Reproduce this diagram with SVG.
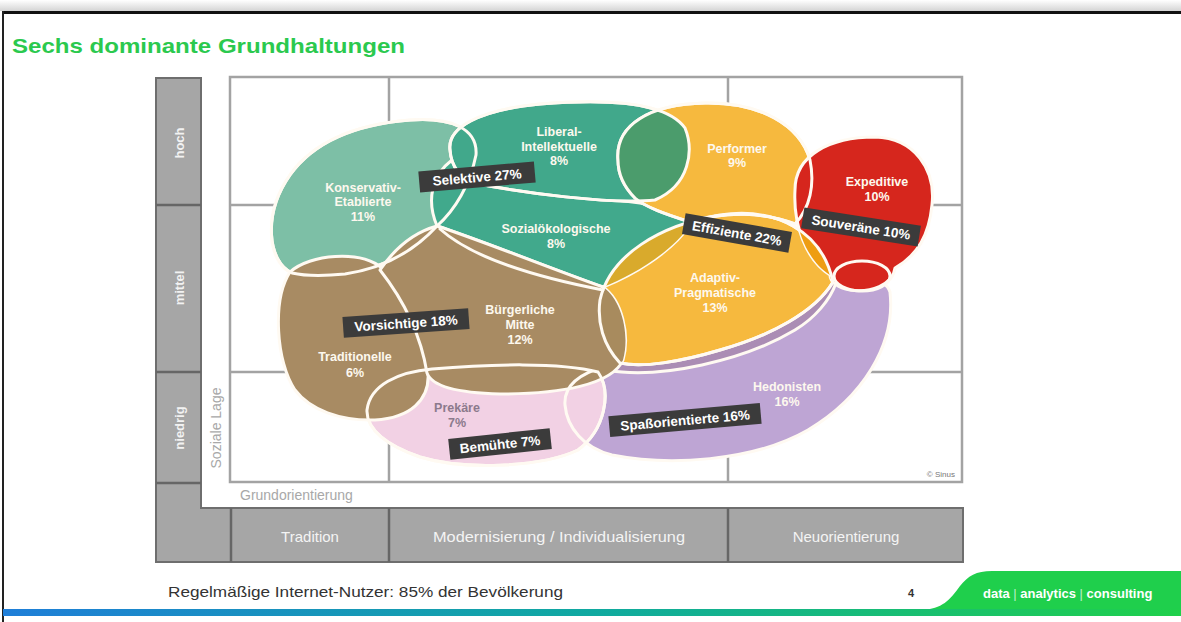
<svg xmlns="http://www.w3.org/2000/svg" width="1181" height="622" viewBox="0 0 1181 622">
<defs>
<linearGradient id="topShade" x1="0" y1="0" x2="0" y2="1"><stop offset="0" stop-color="#ffffff"/><stop offset="1" stop-color="#d4d4d4"/></linearGradient>
<linearGradient id="bottomBar" x1="0" y1="0" x2="1" y2="0"><stop offset="0" stop-color="#1f7ed8"/><stop offset="0.5" stop-color="#10a9a0"/><stop offset="1" stop-color="#1fd04a"/></linearGradient>
<path id="pH" d="M 565,405 C 563,380 590,368 625,362 C 700,350 780,310 828,282 C 850,272 885,276 890,292 C 896,345 862,398 808,430 C 752,462 668,466 612,455 C 584,448 567,428 565,405 Z"/>
<path id="pPk" d="M 367,410 C 370,385 398,372 432,369 C 490,364 560,362 598,372 C 612,392 605,430 578,450 C 540,468 462,470 420,457 C 388,446 366,430 367,410 Z"/>
<path id="pA" d="M 600,300 C 610,255 660,225 720,215 C 775,207 822,230 833,282 C 815,312 770,336 720,350 C 680,362 642,368 620,363 C 603,345 597,322 600,300 Z"/>
<path id="pK" d="M 292,273 C 268,262 262,215 290,175 C 315,140 360,124 410,120 C 450,117 478,128 476,155 C 470,185 455,210 437,226 C 415,250 385,268 345,274 C 325,276 305,276 292,273 Z"/>
<path id="pS" d="M 437,226 C 426,200 432,175 452,160 C 490,182 580,196 640,203 C 662,207 682,215 690,225 C 672,252 632,276 603,287 C 560,272 480,240 437,226 Z"/>
<path id="pL" d="M 450,150 C 447,128 478,110 540,104 C 600,99 665,100 685,128 C 694,150 690,185 655,200 C 610,205 520,192 478,184 C 458,178 451,165 450,150 Z"/>
<path id="pPf" d="M 618,160 C 615,125 650,104 705,103 C 760,102 800,125 810,160 C 815,185 810,208 795,224 C 765,212 725,211 690,222 C 665,214 645,207 635,198 C 622,185 618,172 618,160 Z"/>
<path id="pT" d="M 290,272 C 310,254 360,250 382,268 C 405,300 425,335 428,373 C 430,400 410,418 375,420 C 340,421 310,410 295,390 C 276,362 272,300 290,272 Z"/>
<path id="pB" d="M 380,270 C 395,248 415,232 437,226 C 480,240 560,272 603,287 C 622,300 630,335 623,360 C 612,385 560,394 500,394 C 460,393 432,387 427,373 C 420,330 402,298 380,270 Z"/>
<path id="pE" d="M 795,190 C 795,155 830,137 875,137 C 915,138 936,170 932,205 C 929,235 918,255 895,268 C 893,285 870,293 850,290 C 838,288 830,282 830,275 C 806,260 793,225 795,190 Z"/>
<clipPath id="cA"><use href="#pA"/></clipPath>
<clipPath id="cPf"><use href="#pPf"/></clipPath>
<clipPath id="cPk"><use href="#pPk"/></clipPath>
</defs>
<style>
.blob{stroke:#fffaf2;stroke-width:3;stroke-linejoin:round}
.line{fill:none;stroke:#fffaf2;stroke-width:3;stroke-linecap:round}
.lbl{font-family:"Liberation Sans",Arial,sans-serif;font-weight:bold;font-size:12.5px;fill:#fdf8ee;text-anchor:middle}
.tag rect{fill:#3b3b3b}
.tag text{font-family:"Liberation Sans",Arial,sans-serif;font-weight:bold;font-size:13.5px;fill:#ffffff;text-anchor:middle}
.grid{fill:none;stroke:#a3a3a3;stroke-width:2.5}
.bar{fill:#a6a6a6;stroke:#6e6e6e;stroke-width:2}
.div{stroke:#666666;stroke-width:2.5}
.axis{font-family:"Liberation Sans",Arial,sans-serif;font-size:15px;fill:#f4f4f4;text-anchor:middle}
.vaxis{font-family:"Liberation Sans",Arial,sans-serif;font-size:13px;font-weight:bold;fill:#f2f2f2;text-anchor:middle}
.axtitle{font-family:"Liberation Sans",Arial,sans-serif;font-size:14px;fill:#a8a8a8}
</style>

<rect width="1181" height="622" fill="#ffffff"/>
<rect x="0" y="0" width="1181" height="11" fill="url(#topShade)"/>
<rect x="3" y="11" width="1178" height="3" fill="#111111"/>
<rect x="2" y="11" width="2" height="611" fill="#222222"/>

<text x="12" y="53" font-family="'Liberation Sans',Arial,sans-serif" font-size="21" font-weight="bold" fill="#2bc94e" textLength="393" lengthAdjust="spacingAndGlyphs">Sechs dominante Grundhaltungen</text>

<g id="axes">
<path class="bar" d="M 156,78 H 201 V 508 H 963 V 562 H 156 Z"/>
<line class="div" x1="156" y1="205" x2="201" y2="205"/>
<line class="div" x1="156" y1="372" x2="201" y2="372"/>
<line class="div" x1="156" y1="483" x2="201" y2="483"/>
<line class="div" x1="231" y1="508" x2="231" y2="562"/>
<line class="div" x1="389" y1="508" x2="389" y2="562"/>
<line class="div" x1="728" y1="508" x2="728" y2="562"/>
<text class="vaxis" transform="translate(184,143) rotate(-90)">hoch</text>
<text class="vaxis" transform="translate(184,288) rotate(-90)">mittel</text>
<text class="vaxis" transform="translate(184,428) rotate(-90)">niedrig</text>
<text class="axis" x="310" y="542">Tradition</text>
<text class="axis" x="559" y="542" textLength="252" lengthAdjust="spacingAndGlyphs">Modernisierung / Individualisierung</text>
<text class="axis" x="846" y="542">Neuorientierung</text>
</g>

<g id="panel">
<rect x="202" y="66" width="769" height="441" fill="#ffffff"/>
</g>

<g id="grid">
<rect class="grid" x="230" y="77" width="732" height="405"/>
<line class="grid" x1="389" y1="77" x2="389" y2="482"/>
<line class="grid" x1="728" y1="77" x2="728" y2="482"/>
<line class="grid" x1="230" y1="205" x2="962" y2="205"/>
<line class="grid" x1="230" y1="372" x2="962" y2="372"/>
<text class="axtitle" transform="translate(221,428) rotate(-90)" text-anchor="middle">Soziale Lage</text>
<text class="axtitle" x="240" y="500">Grundorientierung</text>
<text x="955" y="477" font-family="'Liberation Sans',Arial,sans-serif" font-size="8" fill="#777777" text-anchor="end">© Sinus</text>
</g>

<g id="hedonisten"><use href="#pH" class="blob" fill="#bea5d4"/></g>
<g id="strip">
<path d="M 606,368 C 660,380 745,360 795,330 C 815,318 830,300 836,283 L 828,262 L 610,330 Z" fill="#ab8db4"/>
<path class="line" d="M 606,370 C 660,380 745,360 795,330 C 815,318 830,300 836,283"/>
</g>
<g id="prekaere"><use href="#pPk" class="blob" fill="#f2d1e4"/></g>
<g id="adaptiv"><use href="#pA" class="blob" fill="#f6b93e"/></g>
<g id="konservativ"><use href="#pK" class="blob" fill="#7dbfa6"/></g>
<g id="sozialoekologische"><use href="#pS" class="blob" fill="#41a98c"/></g>
<g id="liberal"><use href="#pL" class="blob" fill="#41a88b"/></g>
<g id="performer"><use href="#pPf" class="blob" fill="#f6b93e"/></g>
<g id="overlap-lp"><use href="#pL" fill="#4b9c6c" clip-path="url(#cPf)"/></g>
<g id="traditionelle"><use href="#pT" class="blob" fill="#a88b63"/></g>
<g id="buergerliche"><use href="#pB" class="blob" fill="#a88b63"/></g>
<g id="expeditive"><use href="#pE" class="blob" fill="#d6261d"/></g>
<g id="overlaps">
<use href="#pS" fill="#d9aa2c" clip-path="url(#cA)"/>
<use href="#pE" fill="#ee9d12" clip-path="url(#cA)"/>
<use href="#pB" fill="#a88b5e" clip-path="url(#cA)"/>
</g>

<g id="connectors">
<use href="#pA" class="line"/>
<use href="#pK" class="line"/>
<use href="#pPk" class="line"/>
<use href="#pPf" class="line"/>
<use href="#pL" class="line"/>
<use href="#pH" class="line" clip-path="url(#cPk)"/>
<path class="line" d="M 440,229 C 470,256 530,276 603,290"/>
<ellipse class="line" cx="862" cy="276" rx="28" ry="15"/>
</g>

<g id="labels">
<text class="lbl" x="363" y="192">Konservativ-</text>
<text class="lbl" x="363" y="206">Etablierte</text>
<text class="lbl" x="363" y="221">11%</text>
<text class="lbl" x="559" y="136">Liberal-</text>
<text class="lbl" x="559" y="151">Intellektuelle</text>
<text class="lbl" x="559" y="165">8%</text>
<text class="lbl" x="556" y="233">Sozialökologische</text>
<text class="lbl" x="556" y="248">8%</text>
<text class="lbl" x="737" y="153">Performer</text>
<text class="lbl" x="737" y="167">9%</text>
<text class="lbl" x="877" y="186">Expeditive</text>
<text class="lbl" x="877" y="201">10%</text>
<text class="lbl" x="715" y="282">Adaptiv-</text>
<text class="lbl" x="715" y="297">Pragmatische</text>
<text class="lbl" x="715" y="312">13%</text>
<text class="lbl" x="520" y="314">Bürgerliche</text>
<text class="lbl" x="520" y="329">Mitte</text>
<text class="lbl" x="520" y="344">12%</text>
<text class="lbl" x="355" y="361" fill="#f3e2c6">Traditionelle</text>
<text class="lbl" x="355" y="377" fill="#f3e2c6">6%</text>
<text class="lbl" x="457" y="412" style="fill:#8c7a8c">Prekäre</text>
<text class="lbl" x="457" y="427" style="fill:#8c7a8c">7%</text>
<text class="lbl" x="787" y="391">Hedonisten</text>
<text class="lbl" x="787" y="406">16%</text>
</g>

<g id="tags">
<g class="tag" transform="translate(477,177) rotate(-5)"><rect x="-58" y="-10.5" width="116" height="21"/><text y="5">Selektive 27%</text></g>
<g class="tag" transform="translate(737,233) rotate(10)"><rect x="-54" y="-10.5" width="108" height="21"/><text y="5">Effiziente 22%</text></g>
<g class="tag" transform="translate(861,227) rotate(9)"><rect x="-59" y="-10.5" width="118" height="21"/><text y="5">Souveräne 10%</text></g>
<g class="tag" transform="translate(406,323) rotate(-4)"><rect x="-63" y="-10.5" width="126" height="21"/><text y="5">Vorsichtige 18%</text></g>
<g class="tag" transform="translate(500,444) rotate(-6)"><rect x="-51" y="-10.5" width="102" height="21"/><text y="5">Bemühte 7%</text></g>
<g class="tag" transform="translate(685,420) rotate(-5)"><rect x="-76" y="-10.5" width="152" height="21"/><text y="5">Spaßorientierte 16%</text></g>
</g>

<g id="footer">
<text x="168" y="597" font-family="'Liberation Sans',Arial,sans-serif" font-size="15" fill="#333333" textLength="395" lengthAdjust="spacingAndGlyphs">Regelmäßige Internet-Nutzer: 85% der Bevölkerung</text>
<text x="911" y="597" font-family="'Liberation Sans',Arial,sans-serif" font-size="11" font-weight="bold" fill="#333333" text-anchor="middle">4</text>
<path d="M 922,610 C 942,609 950,600 960,586 C 968,576 976,571 992,571 L 1181,571 L 1181,610 Z" fill="#1fcf4c"/>
<rect x="3" y="609" width="1178" height="7" fill="url(#bottomBar)"/>
<text x="983" y="598" font-family="'Liberation Sans',Arial,sans-serif" font-size="13" font-weight="bold" fill="#ffffff">data <tspan font-weight="normal" fill-opacity="0.7">|</tspan> analytics <tspan font-weight="normal" fill-opacity="0.7">|</tspan> consulting</text>
</g>
</svg>
